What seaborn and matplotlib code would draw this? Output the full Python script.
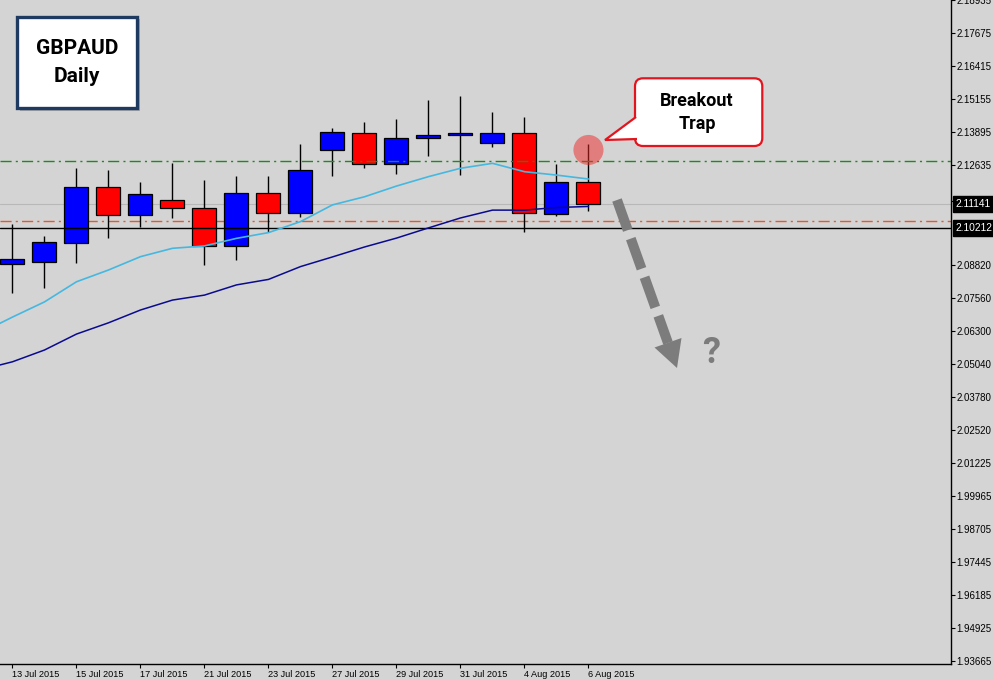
import numpy as np
import pandas as pd
import matplotlib
matplotlib.use("Agg")
import matplotlib.pyplot as plt
import matplotlib.patches as mpatches
import matplotlib.transforms as mtransforms
from matplotlib.lines import Line2D
import seaborn as sns

# daily candles GBPAUD
dates = ['13 Jul 2015', '14 Jul 2015', '15 Jul 2015', '16 Jul 2015', '17 Jul 2015',
         '20 Jul 2015', '21 Jul 2015', '22 Jul 2015', '23 Jul 2015', '24 Jul 2015',
         '27 Jul 2015', '28 Jul 2015', '29 Jul 2015', '30 Jul 2015', '31 Jul 2015',
         '3 Aug 2015', '4 Aug 2015', '5 Aug 2015', '6 Aug 2015']
opens = [2.0885, 2.0894, 2.0964, 2.1178, 2.1071, 2.1129, 2.1098, 2.0954, 2.1155, 2.1079,
         2.1320, 2.1385, 2.1266, 2.1366, 2.1378, 2.1347, 2.1385, 2.1075, 2.1197]
highs = [2.1037, 2.0993, 2.1251, 2.1243, 2.1200, 2.1272, 2.1205, 2.1221, 2.1221, 2.1344,
         2.1404, 2.1429, 2.1438, 2.1512, 2.1526, 2.1465, 2.1448, 2.1267, 2.1343]
lows = [2.0775, 2.0794, 2.0888, 2.0986, 2.1028, 2.1062, 2.0881, 2.0900, 2.1008, 2.1066,
        2.1223, 2.1253, 2.1228, 2.1298, 2.1225, 2.1334, 2.1006, 2.1070, 2.1088]
closes = [2.0903, 2.0968, 2.1178, 2.1071, 2.1151, 2.1098, 2.0954, 2.1155, 2.1079, 2.1244,
          2.1389, 2.1266, 2.1366, 2.1377, 2.1387, 2.1386, 2.1079, 2.1197, 2.11141]

# moving averages (first value = day before 13 Jul, off screen)
ma_fast = [2.0621, 2.0682, 2.0740, 2.0817, 2.0862, 2.0913, 2.0945, 2.0954, 2.0983, 2.1005,
           2.1047, 2.1111, 2.1142, 2.1183, 2.1219, 2.1251, 2.1270, 2.1238, 2.1225, 2.1210]
ma_slow = [2.0480, 2.0511, 2.0556, 2.0617, 2.0660, 2.0709, 2.0747, 2.0766, 2.0805, 2.0826,
           2.0875, 2.0912, 2.0950, 2.0984, 2.1023, 2.1061, 2.1091, 2.1091, 2.1101, 2.1105]

price_ticks = [2.18935, 2.17675, 2.16415, 2.15155, 2.13895, 2.12635, 2.11240, 2.08820,
               2.07560, 2.06300, 2.05040, 2.03780, 2.02520, 2.01225, 1.99965, 1.98705,
               1.97445, 1.96185, 1.94925, 1.93665]

level_green = 2.1279
level_orange = 2.1048
level_black = 2.10212
bid_price = 2.11141
trap_high = 2.1321

BG = '#d4d4d4'
BULL = '#0000ff'
BEAR = '#ff0000'

sns.set_theme(style="white", rc={"axes.facecolor": BG, "figure.facecolor": BG})
plt.rcParams['font.family'] = ['Liberation Sans', 'DejaVu Sans']
BOLD = ['Roboto', 'DejaVu Sans']

fig = plt.figure(figsize=(9.93, 6.79), dpi=100)
ax = fig.add_axes([0, 15 / 679, 951 / 993, 664 / 679])

x = np.arange(len(dates))
o = np.array(opens)
c = np.array(closes)
colors = [BULL if cc >= oo else BEAR for oo, cc in zip(o, c)]

# wicks then bodies
ax.vlines(x, lows, highs, color='black', lw=1, zorder=2)
ax.bar(x, np.abs(c - o), bottom=np.minimum(o, c), width=0.75, color=colors,
       edgecolor='black', linewidth=0.9, zorder=3)

# moving averages
ma_df = pd.DataFrame({'idx': np.arange(-1, len(dates)), 'fast': ma_fast, 'slow': ma_slow})
sns.lineplot(data=ma_df, x='idx', y='fast', color='#45b8e0', lw=1.2, ax=ax, zorder=5)
sns.lineplot(data=ma_df, x='idx', y='slow', color='#0a0a90', lw=1.1, ax=ax, zorder=5)

# levels
ax.axhline(bid_price, color='#b8b8b8', lw=0.8, zorder=1)
ax.axhline(level_green, color='#1d8a1d', lw=1, ls=(0, (8, 3, 1.5, 3)), zorder=4)
ax.axhline(level_orange, color='#ee5522', lw=1, ls=(0, (8, 3, 1.5, 3)), zorder=1.5)
ax.axhline(level_black, color='black', lw=1, zorder=4)

# trap marker
ax.scatter([len(dates) - 1], [trap_high], s=470, color='#f02828', alpha=0.5,
           edgecolor='none', zorder=6)

ax.set_xlim(-0.39, 29.33)
ax.set_ylim(1.93552, 2.18946)
ax.set_xlabel('')
ax.set_ylabel('')

ax.yaxis.tick_right()
ax.set_yticks(price_ticks)
ax.set_yticklabels([f'{v:.5f}' for v in price_ticks])
ax.tick_params(axis='y', length=3, width=0.8, pad=1, labelsize=7, colors='black',
               direction='out', right=True, left=False)
ax.set_xticks(x[::2])
ax.set_xticklabels(dates[::2])
ax.tick_params(axis='x', length=3, width=0.8, pad=1, labelsize=6.6, colors='black',
               direction='out', bottom=True)
for lbl in ax.get_xticklabels():
    lbl.set_ha('left')

for side in ['left', 'top']:
    ax.spines[side].set_visible(False)
for side in ['right', 'bottom']:
    ax.spines[side].set_color('black')
    ax.spines[side].set_linewidth(1)

# boxed price labels on the axis
blend = mtransforms.blended_transform_factory(ax.transAxes, ax.transData)
for val in [bid_price, level_black]:
    ax.text(1.0 + 5 / 951, val, f'{val:.5f}', transform=blend, fontsize=7.4,
            color='white', va='center', ha='left', zorder=10, clip_on=False,
            bbox=dict(boxstyle='square,pad=0.3', fc='black', ec='black'))

# overlay annotations in pixel space (origin top-left)
H = 679
ident = mtransforms.IdentityTransform()


def px(xp, yp):
    return (xp, H - yp)


# title box
fig.add_artist(mpatches.Rectangle(px(19.5, 111), 120.6, 91.6, transform=ident,
                                  fc='#8c8c8c', ec='none', alpha=0.6, zorder=20))
fig.add_artist(mpatches.Rectangle(px(16.7, 108.3), 120.6, 91.6, transform=ident,
                                  fc='white', ec='#1f3a60', lw=2.4, zorder=21))
fig.text(*px(77, 48), 'GBPAUD', transform=ident, ha='center', va='center',
         fontsize=15, fontweight='bold', family=BOLD, color='black', zorder=22)
fig.text(*px(77, 77), 'Daily', transform=ident, ha='center', va='center',
         fontsize=15, fontweight='bold', family=BOLD, color='black', zorder=22)

# callout
RED = '#e3141e'
fig.add_artist(mpatches.FancyBboxPatch(px(635, 146), 127.3, 67.7, transform=ident,
                                       boxstyle='round,pad=0,rounding_size=8',
                                       fc='white', ec=RED, lw=1.6, zorder=20))
fig.add_artist(mpatches.Rectangle(px(633, 138), 5, 20, transform=ident,
                                  fc='white', ec='none', zorder=21))
fig.add_artist(mpatches.Polygon([px(636, 117), px(605, 140), px(637, 139)], closed=False,
                                transform=ident, fc='white', ec=RED, lw=1.6, zorder=22))
fig.text(*px(697, 101), 'Breakout', transform=ident, ha='center', va='center',
         fontsize=13, fontweight='bold', family=BOLD, color='black', zorder=23)
fig.text(*px(697, 124), 'Trap', transform=ident, ha='center', va='center',
         fontsize=13, fontweight='bold', family=BOLD, color='black', zorder=23)

# dashed arrow
GREY = '#7c7c7c'
arrow = Line2D([617, 668], [H - 200, H - 343], transform=ident, color=GREY, lw=7.2,
               solid_capstyle='butt', zorder=20)
arrow.set_dashes((3.2, 0.9))
arrow.set_dash_capstyle('butt')
fig.add_artist(arrow)
fig.add_artist(mpatches.Polygon([px(677, 368), px(681.5, 338), px(654.5, 347.5)],
                                transform=ident, fc=GREY, ec='none', zorder=21))
fig.text(*px(711, 353), '?', transform=ident, ha='center', va='center',
         fontsize=26, fontweight='bold', family=BOLD, color=GREY, zorder=21)

fig.savefig('out.png', dpi=100, facecolor=BG)
